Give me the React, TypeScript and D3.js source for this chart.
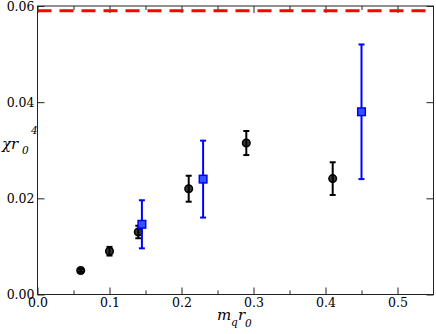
import React from 'react';
import * as d3 from 'd3';

// black circles
const blackX = [0.06, 0.10, 0.14, 0.21, 0.29, 0.41];
const blackY = [0.0050, 0.0090, 0.0130, 0.0220, 0.0315, 0.0241];
const blackErr = [0.0003, 0.0009, 0.0013, 0.0027, 0.0025, 0.0034];

// blue squares
const blueX = [0.145, 0.23, 0.45];
const blueY = [0.0146, 0.0240, 0.0380];
const blueErr = [0.0050, 0.0080, 0.0140];

// red dashed reference level
const refLevel = 0.059;

const xMajor = [0, 0.1, 0.2, 0.3, 0.4, 0.5];
const xMinor = [0.05, 0.15, 0.25, 0.35, 0.45];
const yMajor = [0, 0.02, 0.04, 0.06];

const W = 436;
const H = 334;
const FONT = "'DejaVu Serif', serif";

const App = () => {
  const ref = React.useRef<SVGGElement>(null);

  const x = d3.scaleLinear().domain([0, 0.55]).range([37.5, 433.5]);
  const y = d3.scaleLinear().domain([0, 0.06]).range([294.5, 6]);

  React.useEffect(() => {
    const g = d3.select(ref.current);
    g.selectAll('*').remove();
    const [x0, x1] = x.range();
    const [y0, y1] = y.range();

    const style = (sel) => {
      sel.attr('font-family', null).attr('font-size', null);
      sel.select('.domain').remove();
      sel.selectAll('line').attr('stroke', '#222').attr('stroke-width', 1);
      sel.selectAll('text').style('font-family', FONT).style('font-size', '12.5px').attr('fill', '#000');
    };

    // bottom
    g.append('g').attr('transform', `translate(0,${y0})`)
      .call(d3.axisBottom(x).tickValues(xMajor).tickSize(-7).tickPadding(4).tickFormat(d3.format('.1f')))
      .call(style);
    g.append('g').attr('transform', `translate(0,${y0})`)
      .call(d3.axisBottom(x).tickValues(xMinor).tickSize(-4).tickFormat(() => ''))
      .call(style);
    // top
    g.append('g').attr('transform', `translate(0,${y1})`)
      .call(d3.axisTop(x).tickValues(xMajor).tickSize(-7).tickFormat(() => ''))
      .call(style);
    g.append('g').attr('transform', `translate(0,${y1})`)
      .call(d3.axisTop(x).tickValues(xMinor).tickSize(-4).tickFormat(() => ''))
      .call(style);
    // left
    g.append('g').attr('transform', `translate(${x0},0)`)
      .call(d3.axisLeft(y).tickValues(yMajor).tickSize(-7).tickPadding(3).tickFormat(d3.format('.2f')))
      .call(style);
    // right
    g.append('g').attr('transform', `translate(${x1},0)`)
      .call(d3.axisRight(y).tickValues(yMajor).tickSize(-7).tickFormat(() => ''))
      .call(style);

    // frame
    g.append('rect')
      .attr('x', x0).attr('y', y1)
      .attr('width', x1 - x0).attr('height', y0 - y1)
      .attr('fill', 'none').attr('stroke', '#222').attr('stroke-width', 1);
  }, []);

  const black = blackX.map((v, i) => ({ x: v, y: blackY[i], e: blackErr[i] }));
  const blue = blueX.map((v, i) => ({ x: v, y: blueY[i], e: blueErr[i] }));

  const errBar = (d, color, w, cap) => (
    <g>
      <line x1={x(d.x)} x2={x(d.x)} y1={y(d.y - d.e)} y2={y(d.y + d.e)} stroke={color} strokeWidth={w} />
      <line x1={x(d.x) - cap} x2={x(d.x) + cap} y1={y(d.y - d.e)} y2={y(d.y - d.e)} stroke={color} strokeWidth={w} />
      <line x1={x(d.x) - cap} x2={x(d.x) + cap} y1={y(d.y + d.e)} y2={y(d.y + d.e)} stroke={color} strokeWidth={w} />
    </g>
  );

  const lbl = { fontFamily: FONT, fontStyle: 'italic' as const };

  return (
    <svg width={W} height={H} style={{ position: 'absolute', left: 0, top: 0, background: '#fff' }}>
      <g ref={ref} />
      <line x1={x(0)} x2={x(0.55)} y1={y(refLevel)} y2={y(refLevel)}
        stroke="#ff0000" strokeWidth={3} strokeDasharray="14,8" />
      {black.map((d, i) => (
        <g key={'b' + i}>
          <circle cx={x(d.x)} cy={y(d.y)} r={3.8} fill="#3a3a3a" stroke="#000" strokeWidth={1.5} />
          {errBar(d, '#000', 2, 3)}
        </g>
      ))}
      {blue.map((d, i) => (
        <g key={'s' + i}>
          {errBar(d, '#0000ff', 2, 3)}
          <rect x={x(d.x) - 3.8} y={y(d.y) - 3.8} width={7.6} height={7.6}
            fill="#3355ff" stroke="#0000ff" strokeWidth={1.5} />
        </g>
      ))}
      <g fill="#000">
        <text x={2} y={149} style={{ ...lbl, fontSize: '15px' }}>χr</text>
        <text x={22} y={154} style={{ ...lbl, fontSize: '10.5px' }}>0</text>
        <text x={31} y={134} style={{ ...lbl, fontSize: '10.5px' }}>4</text>
        <text x={217} y={320} style={{ ...lbl, fontSize: '15px' }}>m</text>
        <text x={231} y={326} style={{ ...lbl, fontSize: '10.5px' }}>q</text>
        <text x={238} y={320} style={{ ...lbl, fontSize: '15px' }}>r</text>
        <text x={245} y={327} style={{ ...lbl, fontSize: '10.5px' }}>0</text>
      </g>
    </svg>
  );
};

export default App;
